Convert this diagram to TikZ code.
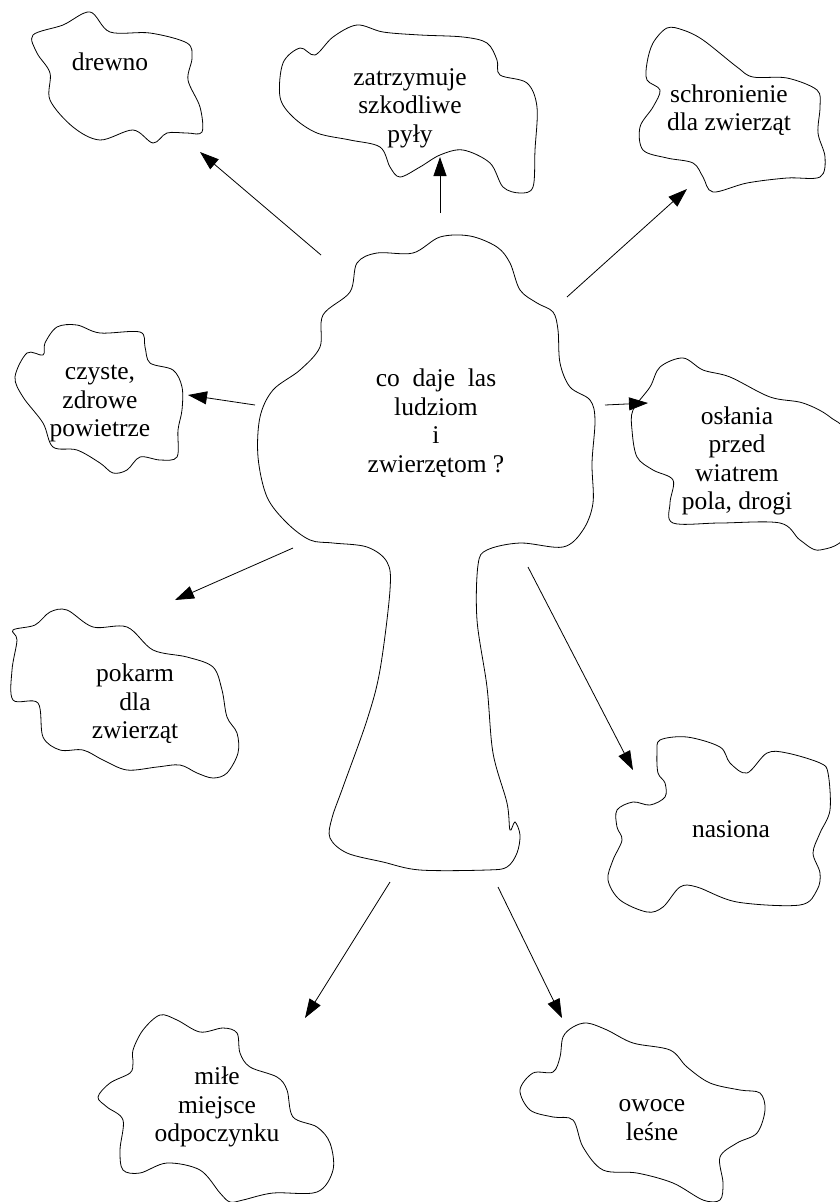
\documentclass[tikz,border=0pt]{standalone}
\usepackage{fontspec}
\setmainfont{Liberation Serif}
\usetikzlibrary{arrows.meta}
\begin{document}
\begin{tikzpicture}[x=1pt,y=-1pt,
  blob/.style={draw=black,line width=0.8pt,smooth cycle,tension=0.55},
  lbl/.style={align=center,font=\fontsize{25.5}{28.5}\selectfont,inner sep=0pt},
  arr/.style={draw=black,line width=0.8pt,-{Triangle[length=19pt,width=13pt]}}]
\useasboundingbox (0,0) rectangle (839,1202);
% blobs
\draw[blob] plot coordinates {(33,35) (63,25) (90,12) (110,32) (150,33) (187,43) (192,58) (188,80) (200,107) (202,132) (187,133) (167,133) (153,143) (133,130) (100,140) (73,127) (50,100) (50,73) (37,53)};
\draw[blob] plot coordinates {(280,97) (283,63) (300,48) (315,55) (333,37) (357,25) (383,32) (420,35) (463,37) (487,43) (497,60) (500,75) (527,83) (537,107) (535,150) (533,187) (520,193) (503,187) (490,163) (463,150) (440,155) (420,167) (400,177) (390,167) (380,147) (350,140) (317,133) (293,117)};
\draw[blob] plot coordinates {(647,63) (653,43) (667,28) (683,30) (703,40) (737,67) (753,77) (787,78) (817,90) (820,107) (818,133) (825,157) (820,177) (787,178) (747,183) (713,192) (703,177) (693,163) (667,158) (643,150) (640,127) (653,107) (660,90) (647,80)};
\draw[blob] plot coordinates {(440,237) (470,236) (497,247) (510,263) (520,290) (537,303) (553,312) (558,330) (560,363) (570,387) (590,400) (595,420) (592,463) (593,503) (583,530) (563,547) (520,543) (487,550) (478,565) (477,620) (487,687) (493,753) (507,803) (510,830) (515,822) (520,835) (517,853) (507,867) (487,870) (420,870) (383,862) (347,853) (330,838) (332,818) (343,787) (367,720) (380,670) (390,590) (387,562) (367,547) (333,543) (310,540) (287,523) (267,497) (258,457) (260,417) (273,390) (300,370) (320,347) (323,315) (350,292) (357,263) (377,253) (413,253)};
\draw[blob] plot coordinates {(27,353) (43,355) (45,343) (57,327) (77,325) (100,333) (140,332) (145,347) (150,363) (173,370) (182,387) (182,410) (178,430) (177,457) (160,460) (140,457) (127,470) (113,473) (100,463) (77,450) (53,447) (43,423) (23,397) (15,377)};
\draw[blob] plot coordinates {(633,410) (650,387) (660,367) (683,358) (703,370) (730,377) (770,397) (803,403) (830,417) (848,440) (848,530) (820,550) (800,540) (780,523) (720,523) (673,523) (670,503) (673,480) (653,470) (637,457) (632,430)};
\draw[blob] plot coordinates {(13,630) (35,625) (50,612) (67,610) (93,627) (127,627) (153,650) (187,657) (213,667) (222,690) (227,717) (237,733) (238,753) (227,773) (213,778) (197,773) (180,765) (157,767) (127,770) (103,760) (83,750) (60,750) (43,737) (38,703) (13,700) (12,670) (17,640)};
\draw[blob] plot coordinates {(665,797) (650,805) (633,802) (617,810) (617,827) (622,840) (613,860) (608,880) (620,900) (647,912) (663,907) (680,887) (697,887) (737,902) (800,905) (817,890) (820,873) (813,853) (820,833) (830,810) (828,773) (820,763) (787,753) (767,753) (747,773) (730,763) (720,747) (687,737) (660,740) (657,753) (658,773) (665,783)};
\draw[blob] plot coordinates {(133,1063) (130,1073) (110,1083) (98,1097) (107,1107) (123,1120) (120,1150) (123,1170) (140,1173) (167,1163) (200,1170) (220,1193) (230,1202) (243,1200) (273,1193) (317,1192) (333,1170) (330,1143) (317,1127) (293,1117) (287,1090) (277,1077) (250,1067) (240,1053) (237,1033) (223,1028) (200,1032) (177,1020) (160,1015) (143,1030) (133,1050)};
\draw[blob] plot coordinates {(560,1057) (553,1072) (533,1073) (520,1090) (530,1110) (553,1117) (573,1120) (583,1147) (603,1170) (637,1173) (673,1183) (703,1200) (720,1200) (723,1183) (720,1157) (737,1143) (757,1133) (765,1110) (760,1093) (740,1090) (710,1083) (687,1067) (670,1050) (633,1043) (607,1030) (587,1023) (573,1027) (563,1037)};
% texts
\node[lbl] (drewno) at (110,62) {drewno};
\node[lbl] (pyly) at (410,108) {zatrzymuje\\szkodliwe\\pyły};
\node[lbl] (schron) at (729,110) {schronienie\\dla zwierząt};
\node[lbl] (las) at (436,423) {co\ \ daje\ \ las\\ludziom\\i\\zwierzętom ?};
\node[lbl] (czyste) at (100,404) {czyste,\\zdrowe\\powietrze};
\node[lbl] (oslania) at (737,461) {osłania\\przed\\wiatrem\\pola, drogi};
\node[lbl] (pokarm) at (135,704) {pokarm\\dla\\zwierząt};
\node[lbl] (nasiona) at (731,829) {nasiona};
\node[lbl] (mile) at (217,1107) {miłe\\miejsce\\odpoczynku};
\node[lbl] (owoce) at (652,1120) {owoce\\leśne};
% arrow ends
\coordinate (a1s) at (321,255); \coordinate (a1e) at (200,152);
\coordinate (a2s) at (440,213); \coordinate (a2e) at (440,157);
\coordinate (a3s) at (567,297); \coordinate (a3e) at (687,189);
\coordinate (a4s) at (255,405); \coordinate (a4e) at (188,395);
\coordinate (a5s) at (605,405); \coordinate (a5e) at (648,403);
\coordinate (a6s) at (293,548); \coordinate (a6e) at (175,600);
\coordinate (a7s) at (528,567); \coordinate (a7e) at (633,770);
\coordinate (a8s) at (390,882); \coordinate (a8e) at (305,1018);
\coordinate (a9s) at (498,887); \coordinate (a9e) at (562,1018);
\draw[arr] (a1s) -- (a1e);
\draw[arr] (a2s) -- (a2e);
\draw[arr] (a3s) -- (a3e);
\draw[arr] (a4s) -- (a4e);
\draw[arr] (a5s) -- (a5e);
\draw[arr] (a6s) -- (a6e);
\draw[arr] (a7s) -- (a7e);
\draw[arr] (a8s) -- (a8e);
\draw[arr] (a9s) -- (a9e);
\end{tikzpicture}
\end{document}
